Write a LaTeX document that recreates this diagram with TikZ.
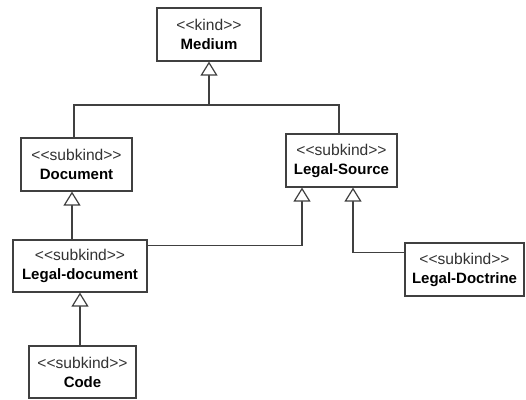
\documentclass[tikz,border=0pt]{standalone}
\usepackage{fontspec}
\setmainfont{Liberation Sans}
\usetikzlibrary{arrows.meta}

\tikzset{
  kindbox/.style={draw=black!75, line width=1.2pt, fill=white, align=center,
    inner sep=0pt, minimum height=53pt, font=\fontsize{15}{19}\selectfont},
  gen/.style={draw=black!75, line width=1.2pt,
    -{Triangle[open, length=14pt, width=17pt, fill=white]}}
}
\newcommand{\stereo}[2]{{\color{black!80}\fontsize{15.6}{19}\selectfont <{}<#1>{}>}\\%
  \textbf{#2}}

\begin{document}
\begin{tikzpicture}[x=1pt, y=-1pt]
    \useasboundingbox (0,0) rectangle (526,399);

    % classes
    \node[kindbox, minimum width=104pt] (medium)   at (209,34.5)  {\stereo{kind}{Medium}};
    \node[kindbox, minimum width=111pt] (document) at (76.5,164.5) {\stereo{subkind}{Document}};
    \node[kindbox, minimum width=111pt] (source)   at (341.5,160.5) {\stereo{subkind}{Legal-Source}};
    \node[kindbox, minimum width=134pt, minimum height=52pt] (legaldoc) at (80,266) {\stereo{subkind}{Legal-document}};
    \node[kindbox, minimum width=119pt] (doctrine) at (464.5,269.5) {\stereo{subkind}{Legal-Doctrine}};
    \node[kindbox, minimum width=107pt, minimum height=52pt] (code) at (82.5,372) {\stereo{subkind}{Code}};

    % generalizations
    \coordinate (join) at (209,105);
    \draw[gen] (document.north -| 74,0) |- (join) -- (medium.south);
    \draw[draw=black!75, line width=1.2pt] (source.north -| 339,0) |- (join);

    \draw[gen] (legaldoc.north -| 72,0) -- (document.south -| 72,0);
    \draw[gen] ([yshift=-6pt]legaldoc.north east) -| (source.south -| 302,0);
    \draw[gen] ([yshift=-10pt]doctrine.north west) -| (source.south -| 353,0);
    \draw[gen] (code.north -| 80,0) -- (legaldoc.south -| 80,0);

\end{tikzpicture}
\end{document}
